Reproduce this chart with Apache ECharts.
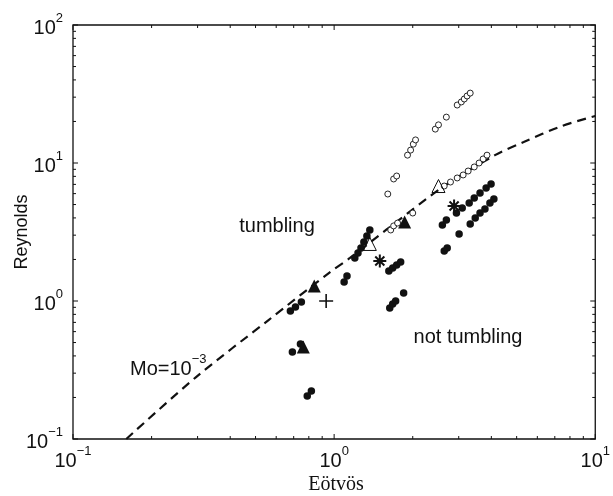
<!DOCTYPE html>
<html>
<head>
<meta charset="utf-8">
<script src="https://cdn.jsdelivr.net/npm/echarts@6/dist/echarts.min.js"></script>
<style>html,body{margin:0;padding:0;background:#fff;}#c{width:613px;height:496px;}</style>
</head>
<body>
<div id="c"></div>
<script>
// ---- data (Eötvös, Reynolds) ----
const curveX = [0.16, 0.296, 0.561, 0.957, 1.15, 1.58, 2.64, 4.13, 5.32, 7.43, 10];
const curveY = [0.1, 0.281, 0.728, 1.6, 2.05, 3.27, 6.81, 11.4, 14.2, 18.5, 21.9];

const filledX = [0.680, 0.711, 0.749, 0.692, 0.743, 0.789, 0.818, 1.092, 1.12,
  1.20, 1.234, 1.267, 1.30, 1.335, 1.37,
  1.62, 1.676, 1.736, 1.798,
  1.633, 1.676, 1.72, 1.846,
  2.597, 2.69, 2.94, 3.094, 3.29, 3.44, 3.62, 3.82, 3.99,
  3.01, 3.32, 3.47, 3.62, 3.78, 3.95, 4.09,
  2.64, 2.71];
const filledY = [0.846, 0.905, 0.983, 0.427, 0.488, 0.205, 0.223, 1.373, 1.518,
  2.05, 2.23, 2.42, 2.68, 2.96, 3.27,
  1.65, 1.734, 1.82, 1.917,
  0.889, 0.951, 1.0, 1.143,
  3.554, 3.86, 4.34, 4.72, 5.13, 5.58, 6.06, 6.59, 7.04,
  3.06, 3.61, 3.99, 4.34, 4.64, 5.13, 5.49,
  2.30, 2.42];

const openX = [1.605, 1.69, 1.736, 1.91, 1.963, 2.01, 2.05, 2.44, 2.51, 2.69, 2.96, 3.07, 3.15, 3.23, 3.32,
  1.647, 1.69, 1.75, 2.00, 2.64, 2.79, 2.96, 3.12, 3.26, 3.44, 3.59, 3.72, 3.85];
const openY = [5.96, 7.66, 8.05, 11.4, 12.4, 13.7, 14.7, 17.6, 18.9, 21.5, 26.3, 27.7, 29.1, 30.6, 32.1,
  3.27, 3.50, 3.67, 4.34, 6.81, 7.28, 7.79, 8.19, 8.75, 9.36, 10.0, 10.7, 11.4];

const triFilledX = [0.839, 0.762, 1.862];
const triFilledY = [1.284, 0.464, 3.74];
const triOpenX = [1.37, 2.51];
const triOpenY = [2.59, 6.81];
const starX = [1.496, 2.88];
const starY = [1.95, 4.88];
const plusX = [0.932];
const plusY = [1.0];

// ---- helpers ----
const zip = (a, b) => a.map((v, i) => [v, b[i]]);
function decadeTicks(lo, hi) {
  const out = [];
  for (let d = lo; d < hi; d *= 10) {
    for (let k = 1; k <= 9; k++) out.push([d * k, k === 1 ? 1 : 0]);
  }
  out.push([hi, 1]);
  return out;
}
const xTicks = decadeTicks(0.1, 10);
const yTicks = decadeTicks(0.1, 100);

function supLabel(v) {
  const e = Math.round(Math.log10(v));
  return '{b|10}{s|' + (e < 0 ? '\u2212' + (-e) : e) + '}';
}
const labelRich = {
  b: { fontSize: 20, fontFamily: 'Liberation Sans', color: '#111', lineHeight: 26, verticalAlign: 'bottom' },
  s: { fontSize: 13, fontFamily: 'Liberation Sans', color: '#111', lineHeight: 13, verticalAlign: 'top' }
};

const chart = echarts.init(document.getElementById('c'), null, { renderer: 'canvas' });
const black = '#111';

const option = {
  animation: false,
  backgroundColor: '#fff',
  grid: { left: 73, right: 14, top: 25, bottom: 57, show: true, borderColor: black, borderWidth: 1.3, backgroundColor: 'transparent' },
  xAxis: {
    type: 'log', logBase: 10, min: 0.1, max: 10,
    axisLine: { show: false }, axisTick: { show: false }, splitLine: { show: false },
    axisLabel: { formatter: supLabel, rich: labelRich, margin: 6 }
  },
  yAxis: {
    type: 'log', logBase: 10, min: 0.1, max: 100,
    axisLine: { show: false }, axisTick: { show: false }, splitLine: { show: false },
    axisLabel: { formatter: supLabel, rich: labelRich, margin: 10 }
  },
  graphic: [
    { type: 'text', rotation: Math.PI / 2, x: 22, y: 232, style: { text: 'Reynolds', font: '18px "Liberation Sans"', fill: black, textAlign: 'center', textVerticalAlign: 'middle' } },
    { type: 'text', x: 336, y: 485, style: { text: 'Eötvös', font: '20px "Liberation Serif"', fill: black, textAlign: 'center', textVerticalAlign: 'middle' } },
    { type: 'text', x: 277, y: 226, style: { text: 'tumbling', font: '20px "Liberation Sans"', fill: black, textAlign: 'center', textVerticalAlign: 'middle' } },
    { type: 'text', x: 468, y: 337, style: { text: 'not tumbling', font: '20px "Liberation Sans"', fill: black, textAlign: 'center', textVerticalAlign: 'middle' } },
    { type: 'text', x: 130, y: 366, style: { text: '{b|Mo=10}{s|\u22123}', rich: { b: { font: '20px "Liberation Sans"', fill: black, lineHeight: 26, verticalAlign: 'bottom' }, s: { font: '13px "Liberation Sans"', fill: black, lineHeight: 13, verticalAlign: 'top' } }, textVerticalAlign: 'middle' } }
  ],
  series: [
    {
      type: 'line', data: zip(curveX, curveY), smooth: 0.3, symbol: 'none',
      lineStyle: { color: black, width: 2.2, type: [9, 6] }, z: 2
    },
    {
      type: 'scatter', data: zip(openX, openY), symbol: 'circle', symbolSize: 6,
      itemStyle: { color: '#fff', borderColor: black, borderWidth: 0.9, opacity: 1 }, z: 3
    },
    {
      type: 'scatter', data: zip(filledX, filledY), symbol: 'circle', symbolSize: 7.5,
      itemStyle: { color: black, opacity: 1 }, z: 4
    },
    {
      type: 'scatter', data: zip(triFilledX, triFilledY), symbol: 'triangle', symbolSize: 13,
      itemStyle: { color: black, opacity: 1 }, z: 5
    },
    {
      type: 'scatter', data: zip(triOpenX, triOpenY), symbol: 'triangle', symbolSize: 13,
      itemStyle: { color: 'rgba(255,255,255,0)', borderColor: black, borderWidth: 1, opacity: 1 }, z: 5
    },
    {
      type: 'scatter', data: zip(starX, starY),
      symbol: 'path://M5,0L5,10M0,5L10,5M1.5,1.5L8.5,8.5M8.5,1.5L1.5,8.5', symbolSize: 13,
      itemStyle: { color: 'none', borderColor: black, borderWidth: 2, opacity: 1 }, z: 5
    },
    {
      type: 'scatter', data: zip(plusX, plusY),
      symbol: 'path://M5,0L5,10M0,5L10,5', symbolSize: 14,
      itemStyle: { color: 'none', borderColor: black, borderWidth: 1.6, opacity: 1 }, z: 5
    },
    {
      type: 'custom', data: xTicks.map(t => [t[0], 1, t[1]]), silent: true, z: 6,
      renderItem: function (params, api) {
        const cs = params.coordSys;
        const p = api.coord([api.value(0), 1]);
        const len = api.value(2) ? 5 : 3;
        const st = { stroke: black, lineWidth: 1 };
        return { type: 'group', children: [
          { type: 'line', shape: { x1: p[0], y1: cs.y + cs.height, x2: p[0], y2: cs.y + cs.height - len }, style: st },
          { type: 'line', shape: { x1: p[0], y1: cs.y, x2: p[0], y2: cs.y + len }, style: st }
        ] };
      }
    },
    {
      type: 'custom', data: yTicks.map(t => [1, t[0], t[1]]), silent: true, z: 6,
      renderItem: function (params, api) {
        const cs = params.coordSys;
        const p = api.coord([1, api.value(1)]);
        const len = api.value(2) ? 5 : 3;
        const st = { stroke: black, lineWidth: 1 };
        return { type: 'group', children: [
          { type: 'line', shape: { x1: cs.x, y1: p[1], x2: cs.x + len, y2: p[1] }, style: st },
          { type: 'line', shape: { x1: cs.x + cs.width, y1: p[1], x2: cs.x + cs.width - len, y2: p[1] }, style: st }
        ] };
      }
    }
  ]
};
chart.setOption(option);
</script>
</body>
</html>
